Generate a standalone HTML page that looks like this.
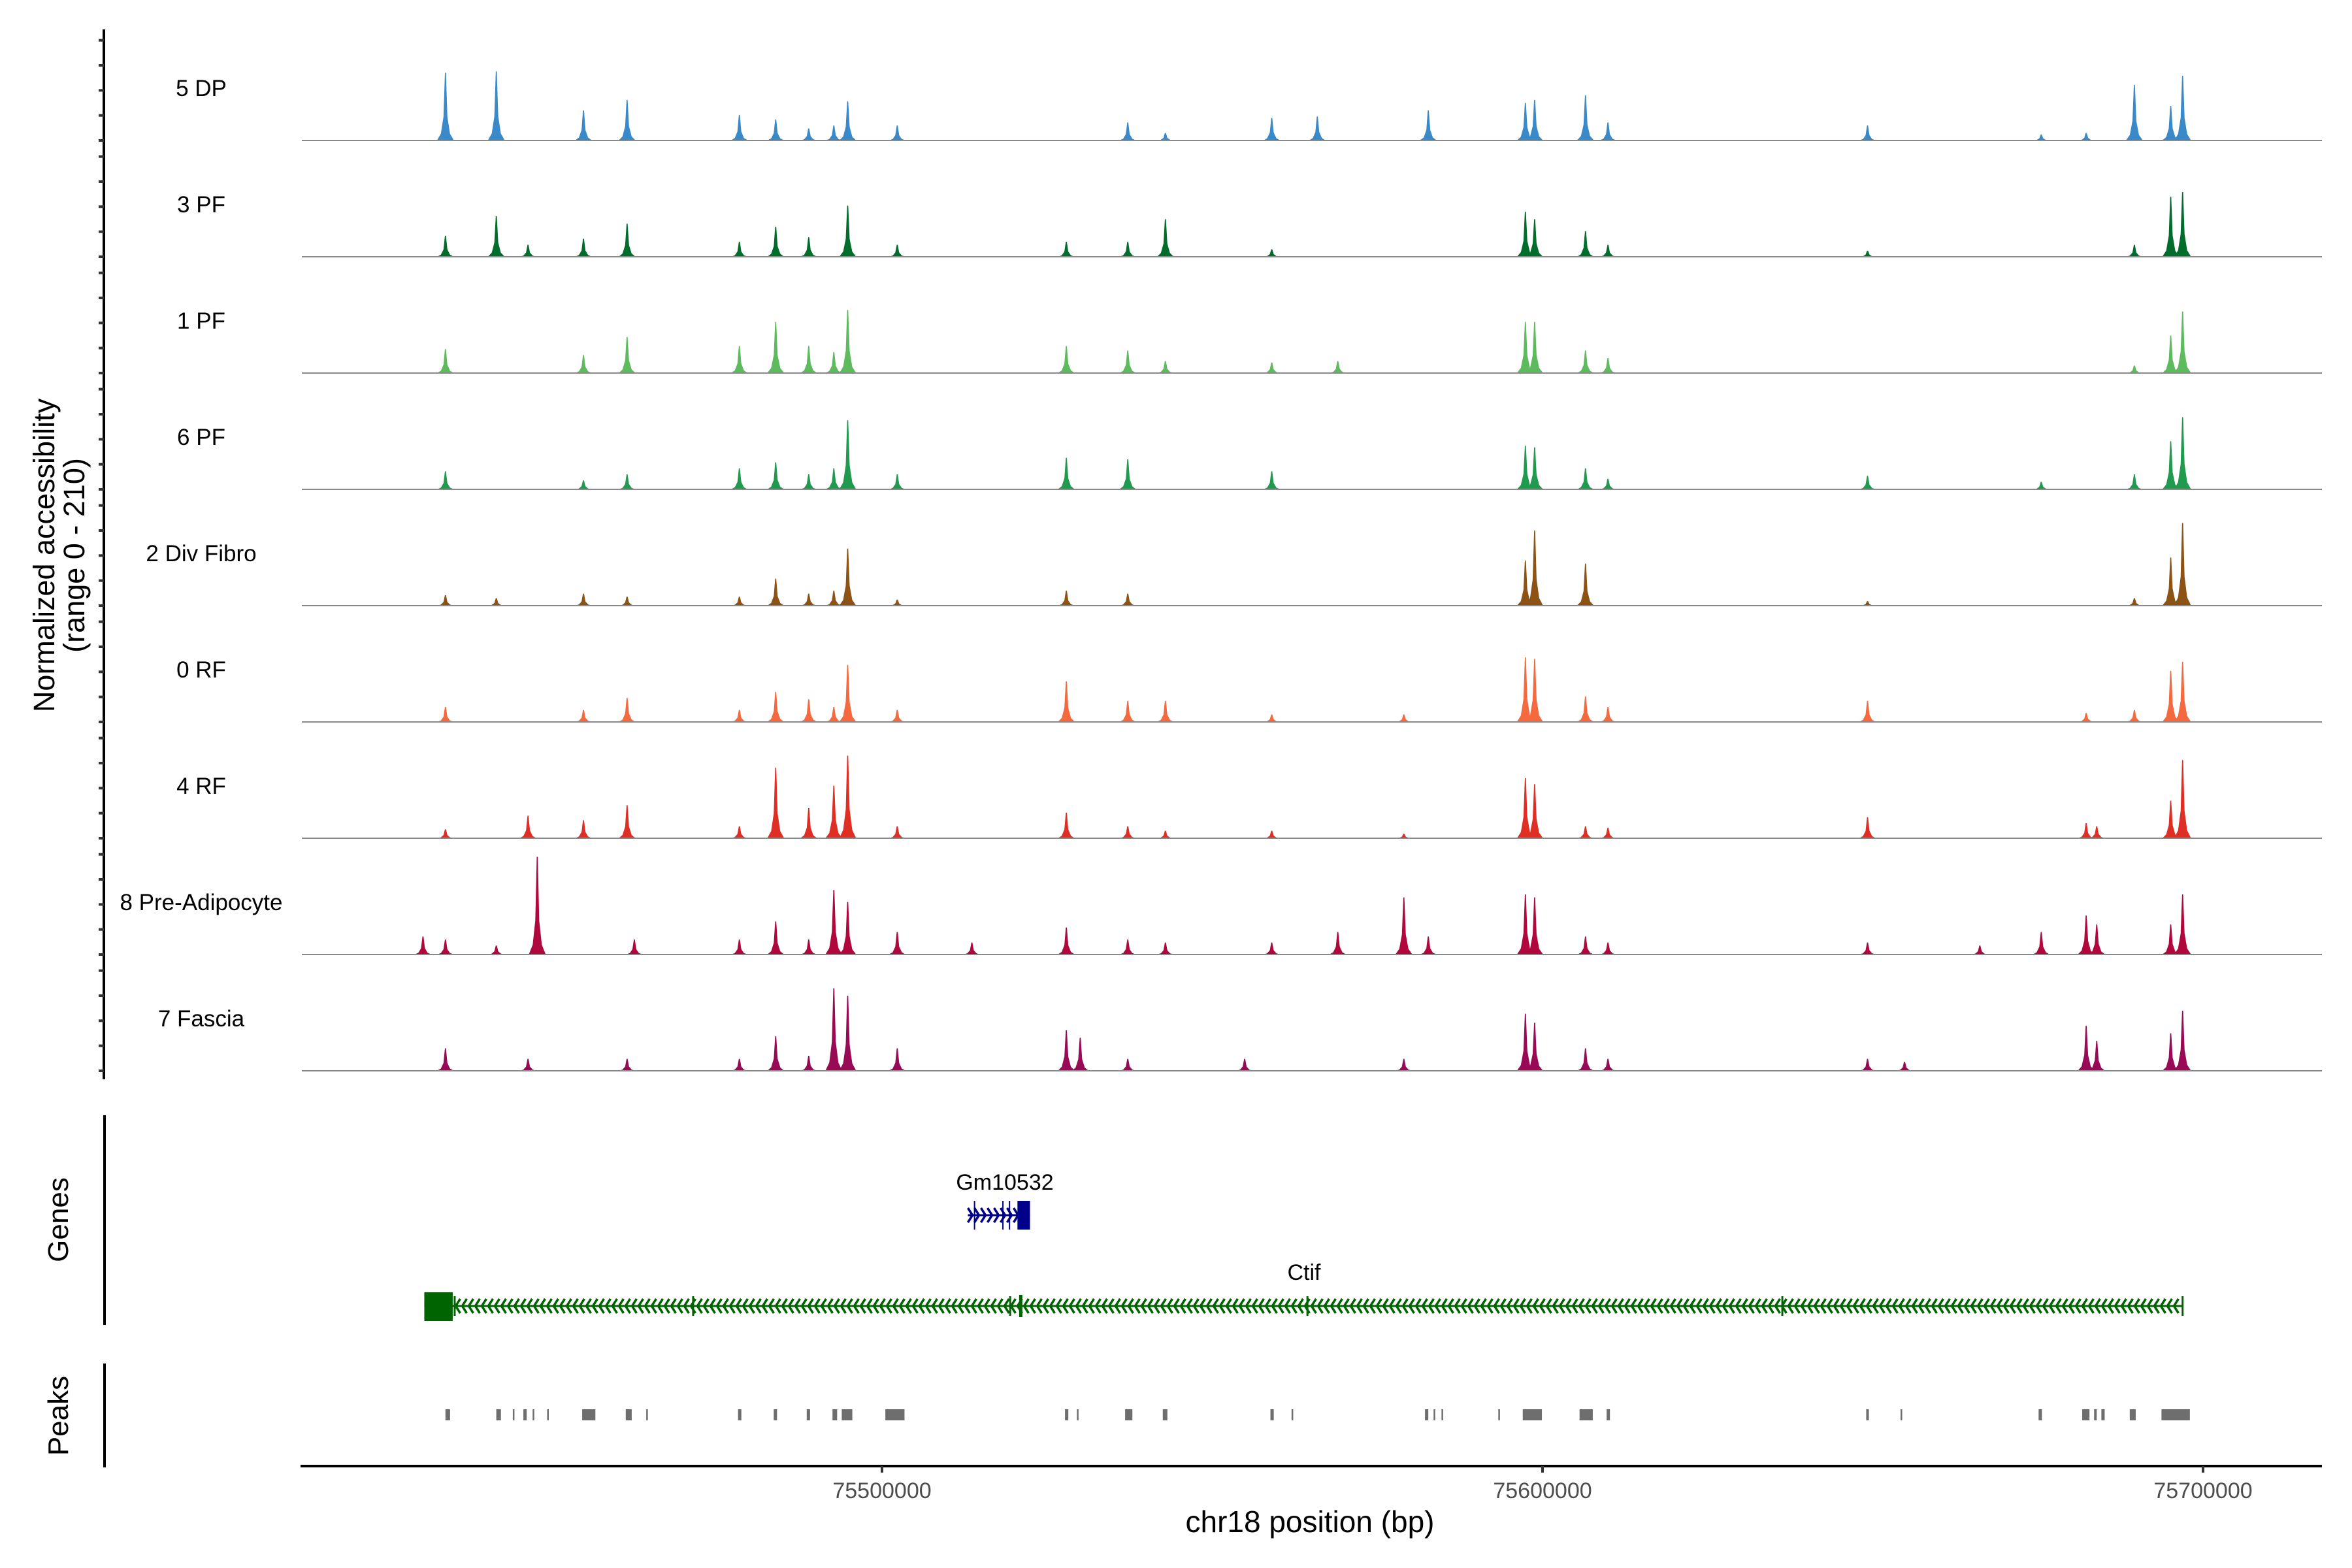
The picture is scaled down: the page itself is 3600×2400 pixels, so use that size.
<!DOCTYPE html>
<html><head><meta charset="utf-8"><style>
html,body{margin:0;padding:0;background:#fff;}
svg{display:block;font-family:"Liberation Sans",Arial,sans-serif;}
</style></head><body>
<svg id="chart" width="3600" height="2400" viewBox="0 0 3600 2400" xmlns="http://www.w3.org/2000/svg">
<rect width="3600" height="2400" fill="#fff"/>
<g id="tracks"></g>
<g id="yaxis"></g>
<g id="genes"></g>
<g id="peaks"></g>
<g id="xaxis"></g>
<text transform="translate(83,850) rotate(-90)" text-anchor="middle" font-size="45" fill="#000">Normalized accessibility</text>
<text transform="translate(129,850) rotate(-90)" text-anchor="middle" font-size="45" fill="#000">(range 0 - 210)</text>
<text transform="translate(104,1867) rotate(-90)" text-anchor="middle" font-size="44" fill="#000">Genes</text>
<text transform="translate(104,2167) rotate(-90)" text-anchor="middle" font-size="44" fill="#000">Peaks</text>
<text x="2005" y="2345" text-anchor="middle" font-size="46" fill="#000">chr18 position (bp)</text>
</svg>
<script>
// ---- data ----
const trackNames = ["5 DP","3 PF","1 PF","6 PF","2 Div Fibro","0 RF","4 RF","8 Pre-Adipocyte","7 Fascia"];
const trackColors = ["#3a89c9","#006d2c","#5dbb5d","#1f9a4e","#8c5314","#f4693e","#df2f24","#b0073c","#980a55"];
// peak positions: kb offset from 75,400,000 ; values: normalized accessibility
const dp5Pos = [34.5,42.2,55.4,62.0,79.0,84.5,89.5,93.3,95.4,102.9,137.8,143.5,159.6,166.5,183.3,198.0,199.4,207.1,210.5,249.8,276.1,282.9,290.2,295.7,297.5];
const dp5Val = [135,138,60,81,51,42,24,30,78,30,36,15,45,48,60,75,81,90,36,30,12,15,111,69,129];
const pf3Pos = [34.5,42.2,47.0,55.4,62.0,79.0,84.5,89.5,95.4,102.9,128.5,137.8,143.5,159.6,198.0,199.4,207.1,210.5,249.8,290.2,295.7,297.5];
const pf3Val = [42,81,24,36,66,30,60,39,102,24,30,30,75,15,90,75,51,24,12,24,120,129];
const pf1Pos = [34.5,55.4,62.0,79.0,84.5,89.5,93.3,95.4,128.5,137.8,143.5,159.6,169.6,198.0,199.4,207.1,210.5,290.2,295.7,297.5];
const pf1Val = [48,36,72,54,102,54,42,126,54,45,24,21,24,102,102,45,30,15,75,123];
const pf6Pos = [34.5,55.4,62.0,79.0,84.5,89.5,93.3,95.4,102.9,128.5,137.8,159.6,198.0,199.4,207.1,210.5,249.8,276.1,290.2,295.7,297.5];
const pf6Val = [36,18,30,42,54,30,42,138,30,63,60,36,87,84,42,21,27,15,30,96,144];
const div2Pos = [34.5,42.2,55.4,62.0,79.0,84.5,89.5,93.3,95.4,102.9,128.5,137.8,198.0,199.4,207.1,249.8,290.2,295.7,297.5];
const div2Val = [21,15,24,18,18,54,24,30,114,12,30,24,90,150,84,9,15,96,165];
const rf0Pos = [34.5,55.4,62.0,79.0,84.5,89.5,93.3,95.4,102.9,128.5,137.8,143.5,159.6,179.6,198.0,199.4,207.1,210.5,249.8,282.9,290.2,295.7,297.5];
const rf0Val = [30,24,48,24,60,45,30,114,24,81,42,42,15,15,129,126,51,30,42,18,24,102,120];
const rf4Pos = [34.5,47.0,55.4,62.0,79.0,84.5,89.5,93.3,95.4,102.9,128.5,137.8,143.5,159.6,179.6,198.0,199.4,207.1,210.5,249.8,282.9,284.5,295.7,297.5];
const rf4Val = [18,45,36,66,24,141,60,105,165,24,51,24,15,15,9,120,108,24,21,42,30,24,75,156];
const pa8Pos = [31.1,34.5,42.2,48.4,63.1,79.0,84.5,89.5,93.3,95.4,102.9,114.2,128.5,137.8,143.5,159.6,169.6,179.6,183.3,198.0,199.4,207.1,210.5,249.8,266.8,276.1,282.9,284.5,295.7,297.5];
const pa8Val = [36,30,18,195,30,30,66,30,129,105,45,24,54,30,24,24,45,114,36,120,114,36,24,24,18,45,78,60,60,120];
const fa7Pos = [34.5,47.0,62.0,79.0,84.5,89.5,93.3,95.4,102.9,128.5,130.6,137.8,155.5,179.6,198.0,199.4,207.1,210.5,249.8,255.4,282.9,284.5,295.7,297.5];
const fa7Val = [45,24,24,24,69,30,165,150,45,81,66,24,24,24,114,96,45,24,24,18,90,60,75,120];
const trackPos = [dp5Pos,pf3Pos,pf1Pos,pf6Pos,div2Pos,rf0Pos,rf4Pos,pa8Pos,fa7Pos];
const trackVal = [dp5Val,pf3Val,pf1Val,pf6Val,div2Val,rf0Val,rf4Val,pa8Val,fa7Val];
const peakStart = [34.5,42.2,44.7,46.3,47.7,49.9,55.2,61.8,64.9,78.8,84.2,89.2,93.1,94.5,101.1,128.3,130.1,137.4,143.1,159.4,162.6,182.8,184.1,185.3,193.9,197.6,206.2,210.3,249.6,254.8,275.7,282.3,284.1,285.2,289.5,294.3];
const peakEnd   = [35.2,42.9,44.9,46.8,47.9,50.0,57.2,62.7,65.0,79.3,84.7,89.7,93.8,96.1,104.0,128.8,130.3,138.5,143.8,159.9,162.7,183.3,184.3,185.5,194.0,200.5,208.2,210.8,250.0,255.0,276.2,283.4,284.5,285.7,290.4,298.6];
const xTicks = [100,200,300];
const xTickLabels = ["75500000","75600000","75700000"];
const yTicks = [0,50,100,150,200];

// ---- scales ----
const NS="http://www.w3.org/2000/svg";
function xs(kb){return 1344+(kb-100)*10.11;}
const baseline0=215, trackGap=178, vScale=161/210;
function ys(v,i){return baseline0+i*trackGap - v*vScale;}
function mk(tag,attrs,parent){const e=document.createElementNS(NS,tag);for(const k in attrs)e.setAttribute(k,attrs[k]);parent.appendChild(e);return e;}

// ---- tracks ----
const tg=document.getElementById('tracks');
trackNames.forEach((name,i)=>{
  const g=mk('g',{},tg);
  
  
  const b=ys(0,i);
  const lbl=mk('text',{x:308,y:b-68,'text-anchor':'middle','font-size':35,fill:'#000'},g);
  lbl.textContent=name;
  
  
  const pos=trackPos[i], val=trackVal[i];
  pos.forEach((p,j)=>{
    const x=xs(p), top=ys(val[j],i), mid=ys(val[j]*0.35,i), low=ys(val[j]*0.1,i);
    const d=`M${x-13},${b} L${x-7},${low} L${x-3},${mid} L${x-0.8},${top} L${x+0.8},${top} L${x+3},${mid} L${x+7},${low} L${x+13},${b} Z`;
    const pk=mk('path',{d:d,fill:trackColors[i]},g);
    
    
  });
  const ln=mk('line',{x1:462,x2:3554,y1:b,y2:b,stroke:'#8a8a8a','stroke-width':2},g);
  
  
});

// ---- y axis ----
const ya=document.getElementById('yaxis');
mk('line',{x1:159,x2:159,y1:45,y2:1652,stroke:'#000','stroke-width':4},ya);
trackNames.forEach((n,i)=>{
  yTicks.forEach(t=>{
    const y=ys(t,i);
    const tk=mk('line',{x1:151,x2:159,y1:y,y2:y,stroke:'#333','stroke-width':4},ya);
    
    
  });
});

// ---- genes ----
const gg=document.getElementById('genes');
mk('line',{x1:160,x2:160,y1:1707,y2:2028,stroke:'#000','stroke-width':4},gg);
// Ctif (minus strand)
const ctifStart=31.3, ctifEnd=297.5, ctifY=1999;
const ctif=mk('g',{},gg);


mk('line',{x1:xs(ctifStart),x2:xs(ctifEnd),y1:ctifY,y2:ctifY,stroke:'#006400','stroke-width':3},ctif);
for(let x=xs(ctifStart)+48;x<xs(ctifEnd)-4;x+=10){
  mk('path',{d:`M${x+7},${ctifY-11} L${x},${ctifY} L${x+7},${ctifY+11}`,fill:'none',stroke:'#006400','stroke-width':3.5},ctif);
}
mk('rect',{x:xs(ctifStart),y:1978,width:xs(35.6)-xs(ctifStart),height:44,fill:'#006400'},ctif);
[35.9,72.0,120.0,165.0,236.9,ctifEnd].forEach(k=>{
  mk('line',{x1:xs(k),x2:xs(k),y1:1984,y2:2014,stroke:'#006400','stroke-width':3},ctif);
});
mk('line',{x1:xs(121.6),x2:xs(121.6),y1:1982,y2:2016,stroke:'#006400','stroke-width':5},ctif);
const ct=mk('text',{x:1996,y:1959,'text-anchor':'middle','font-size':34,fill:'#000'},gg);
ct.textContent='Ctif';


// Gm10532 (plus strand)
const gm=mk('g',{},gg);


const gmStart=113.6, gmEnd=123.0, gmY=1860;
mk('line',{x1:xs(gmStart),x2:xs(gmEnd),y1:gmY,y2:gmY,stroke:'#00008b','stroke-width':3},gm);
for(let x=xs(gmStart);x<xs(121.1);x+=10){
  mk('path',{d:`M${x},${gmY-11} L${x+7},${gmY} L${x},${gmY+11}`,fill:'none',stroke:'#00008b','stroke-width':3.5},gm);
}
mk('rect',{x:xs(121.1),y:1838,width:xs(gmEnd)-xs(121.1),height:44,fill:'#00008b'},gm);
[114.6,118.9,119.9].forEach(k=>mk('line',{x1:xs(k),x2:xs(k),y1:1838,y2:1882,stroke:'#00008b','stroke-width':2},gm));
const gt=mk('text',{x:1538,y:1821,'text-anchor':'middle','font-size':34,fill:'#000'},gg);
gt.textContent='Gm10532';



// ---- peaks ----
const pg=document.getElementById('peaks');
mk('line',{x1:160,x2:160,y1:2087,y2:2246,stroke:'#000','stroke-width':4},pg);
peakStart.forEach((s,i)=>{
  const x0=xs(s), w=Math.max(2.5,xs(peakEnd[i])-x0);
  const r=mk('rect',{x:x0,y:2157,width:w,height:17,fill:'#6e6e6e'},pg);
  
  
});

// ---- x axis ----
const xa=document.getElementById('xaxis');
mk('line',{x1:460,x2:3554,y1:2244,y2:2244,stroke:'#000','stroke-width':4},xa);
xTicks.forEach((t,i)=>{
  const x=xs(t)+6;
  const tk=mk('line',{x1:x,x2:x,y1:2244,y2:2254,stroke:'#333','stroke-width':4},xa);
  
  
  const tl=mk('text',{x:x,y:2293,'text-anchor':'middle','font-size':34,fill:'#4d4d4d'},xa);
  tl.textContent=xTickLabels[i];
  
  
});
</script>
</body></html>
